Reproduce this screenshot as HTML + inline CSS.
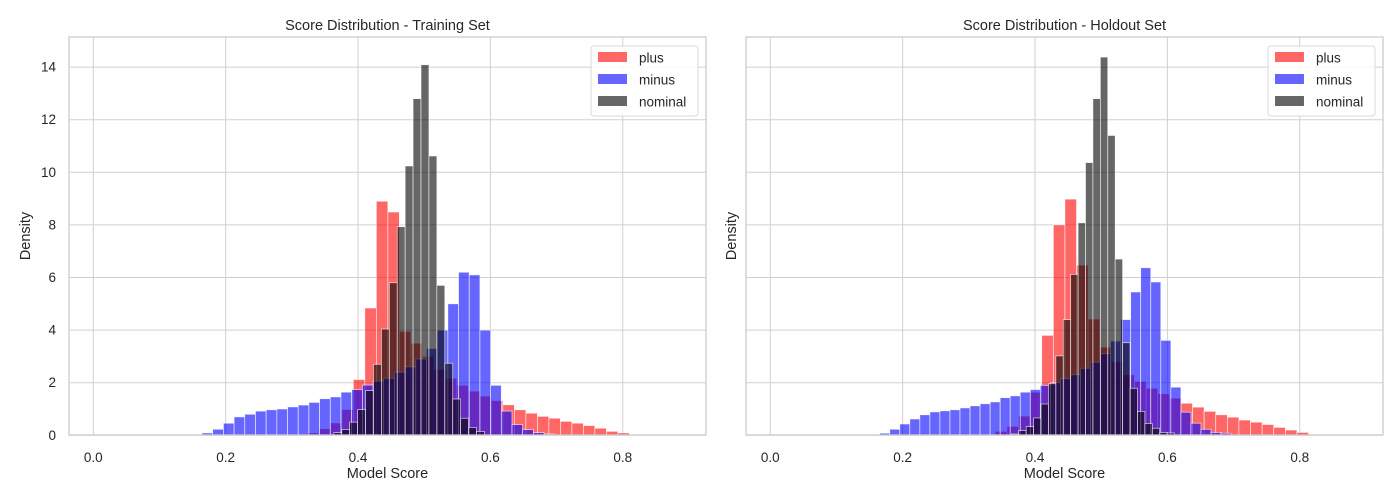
<!DOCTYPE html>
<html><head><meta charset="utf-8"><style>
body{margin:0;background:#fff;}
svg{display:block;font-family:"Liberation Sans","DejaVu Sans",sans-serif;}
</style></head><body>
<svg id="c" width="1400" height="500" xmlns="http://www.w3.org/2000/svg"></svg>
<script>
// ---- data ----
const trainBlueStart = 0.1643, trainBlueWidth = 0.01615;
const trainBlue = [0.09,0.23,0.46,0.70,0.80,0.92,0.97,1.0,1.08,1.15,1.25,1.39,1.46,1.64,1.74,1.91,2.06,2.17,2.4,2.6,2.9,3.3,4.0,5.0,6.2,6.1,4.0,1.9,0.92,0.41,0.22,0.1,0.05];
const trainRedStart = 0.3234, trainRedWidth = 0.01738;
const trainRed = [0.09,0.25,0.47,0.98,2.12,4.84,8.9,8.49,3.95,3.5,3.0,2.5,2.17,1.9,1.68,1.49,1.32,1.16,0.97,0.84,0.72,0.65,0.53,0.46,0.37,0.27,0.15,0.09];
const trainNomStart = 0.3634, trainNomWidth = 0.01198;
const trainNom = [0.1,0.22,0.5,0.98,1.7,2.7,4.04,5.8,7.93,10.24,12.8,14.09,10.62,5.7,2.74,1.38,0.65,0.3,0.15];

const holdBlueStart = 0.1653, holdBlueWidth = 0.01517;
const holdBlue = [0.08,0.23,0.43,0.62,0.78,0.89,0.93,0.97,1.04,1.12,1.2,1.27,1.43,1.5,1.64,1.74,1.9,2.0,2.15,2.3,2.55,2.78,3.1,3.58,4.4,5.45,6.37,5.83,3.61,1.83,0.88,0.46,0.23,0.11,0.08];
const holdRedStart = 0.34, holdRedWidth = 0.01753;
const holdRed = [0.15,0.34,0.73,1.64,3.8,8.0,8.98,6.47,4.42,3.35,2.8,2.3,2.05,1.79,1.58,1.41,1.22,1.07,0.91,0.78,0.69,0.58,0.5,0.41,0.3,0.2,0.11];
const holdNomStart = 0.3642, holdNomWidth = 0.01121;
const holdNom = [0.05,0.18,0.33,0.66,1.19,1.96,3.02,4.4,6.12,8.08,10.37,12.8,14.38,11.4,6.7,3.52,1.79,0.91,0.45,0.27,0.11,0.09];

const xTicks = [0.0,0.2,0.4,0.6,0.8];
const yTicks = [0,2,4,6,8,10,12,14];
const legendLabels = ["plus","minus","nominal"];
const titles = ["Score Distribution - Training Set","Score Distribution - Holdout Set"];

const NS="http://www.w3.org/2000/svg";
const svg=document.getElementById('c');
function mk(tag,attrs,parent){const e=document.createElementNS(NS,tag);for(const k in attrs)e.setAttribute(k,attrs[k]);(parent||svg).appendChild(e);return e;}

function panel(idx, left, x0px, series){
  const right=left+637, top=37, bottom=435;
  const g=mk('g',{});
  
  
  const xs=v=>x0px+v*661.8;
  const ys=v=>435.3-v*26.3;
  xTicks.forEach(t=>{const l=mk('line',{x1:xs(t),x2:xs(t),y1:top,y2:bottom,stroke:'#d0d0d0','stroke-width':1},g);
    });
  yTicks.forEach(t=>{const l=mk('line',{x1:left,x2:right,y1:ys(t),y2:ys(t),stroke:'#d0d0d0','stroke-width':1},g);
    });
  series.forEach(s=>{
    s.vals.forEach((v,i)=>{
      const x=xs(s.start+i*s.w), w=s.w*661.8;
      const r=mk('rect',{x:x,y:ys(v),width:w,height:ys(0)-ys(v),fill:s.color,'fill-opacity':0.6,stroke:'#fff','stroke-width':0.7,'stroke-opacity':0.8},g);
      
      
    });
  });
  const f=mk('rect',{x:left,y:top,width:right-left,height:bottom-top,fill:'none',stroke:'#cccccc','stroke-width':1.3},g);
  
  xTicks.forEach(t=>{const e=mk('text',{x:xs(t),y:462,'text-anchor':'middle','font-size':13.5,fill:'#262626'},g);e.textContent=t.toFixed(1);
    });
  if(idx===0){
    yTicks.forEach(t=>{const e=mk('text',{x:56,y:ys(t)+4.5,'text-anchor':'end','font-size':13.5,fill:'#262626'},g);e.textContent=t;
      });
  }
  const yoff = idx===0 ? 39 : 10;
  const yl=mk('text',{x:0,y:0,transform:`translate(${left-yoff},236) rotate(-90)`,'text-anchor':'middle','font-size':14.5,fill:'#262626'},g);
  yl.textContent='Density';
  const xl=mk('text',{x:(left+right)/2,y:478,'text-anchor':'middle','font-size':14.5,fill:'#262626'},g);
  xl.textContent='Model Score';
  const tt=mk('text',{x:(left+right)/2,y:30,'text-anchor':'middle','font-size':14.5,fill:'#262626'},g);
  tt.textContent=titles[idx];
  const lg=mk('g',{},g);
  
  const lx=right-115;
  mk('rect',{x:lx,y:46,width:107,height:70,rx:3,fill:'#fff','fill-opacity':0.85,stroke:'#d8d8d8'},lg);
  const cols=['#ff0000','#0000ff','#000000'];
  legendLabels.forEach((lab,i)=>{
    const p=mk('rect',{x:lx+7,y:52+i*22,width:29,height:10,fill:cols[i],'fill-opacity':0.6},lg);
    
    const t=mk('text',{x:lx+48,y:62.5+i*22,'font-size':13.5,fill:'#262626'},lg);t.textContent=lab;
    
  });
}
panel(0,69,93.3,[
  {name:'plus',color:'#ff0000',vals:trainRed,start:trainRedStart,w:trainRedWidth},
  {name:'minus',color:'#0000ff',vals:trainBlue,start:trainBlueStart,w:trainBlueWidth},
  {name:'nominal',color:'#000000',vals:trainNom,start:trainNomStart,w:trainNomWidth}]);
panel(1,746,770.3,[
  {name:'plus',color:'#ff0000',vals:holdRed,start:holdRedStart,w:holdRedWidth},
  {name:'minus',color:'#0000ff',vals:holdBlue,start:holdBlueStart,w:holdBlueWidth},
  {name:'nominal',color:'#000000',vals:holdNom,start:holdNomStart,w:holdNomWidth}]);
</script>
</body></html>
